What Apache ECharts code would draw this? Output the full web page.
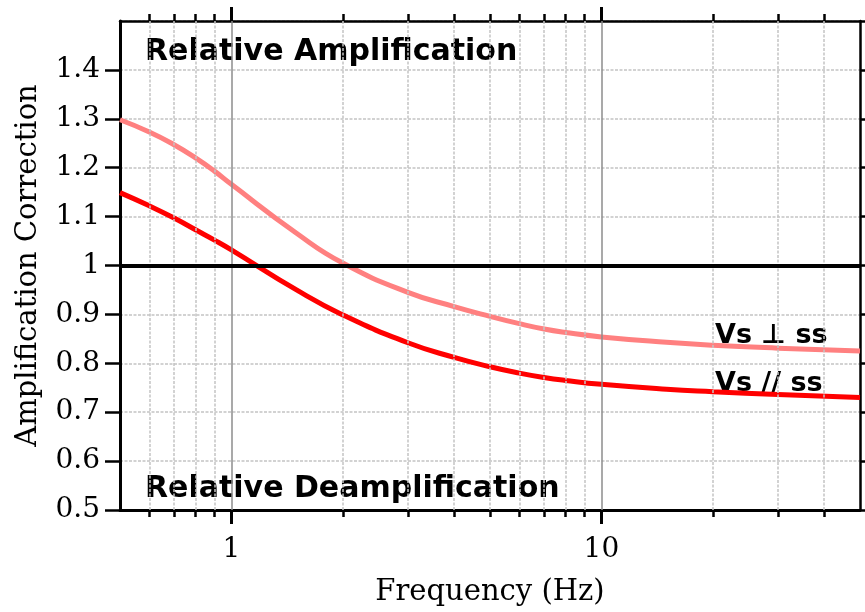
<!DOCTYPE html>
<html><head><meta charset="utf-8">
<script src="https://cdn.jsdelivr.net/npm/echarts@6/dist/echarts.min.js"></script>
<style>html,body{margin:0;padding:0;background:#fff}#c{width:865px;height:612px}</style>
</head><body><div id="c"></div>
<script>
const freq     = [0.5,  0.6,  0.7,  0.8,  0.9,  1,    1.5,  2,    3,    4,    5,    6,    7,    8,    10,   15,   20,   30,   50];
const vsPerpSS = [1.298,1.273,1.247,1.220,1.193,1.166,1.066,1.005,0.945,0.916,0.896,0.881,0.870,0.863,0.854,0.843,0.837,0.831,0.825];
const vsParSS  = [1.149,1.122,1.097,1.073,1.052,1.032,0.950,0.899,0.842,0.812,0.793,0.780,0.771,0.765,0.757,0.747,0.742,0.736,0.730];
const majorTicks = [1, 10];
const minorTicks = [0.6,0.7,0.8,0.9,2,3,4,5,6,7,8,9,20,30,40];
const refLevel = 1;
const xRange = [0.5, 50];
const yRange = [0.5, 1.5];

const chart = echarts.init(document.getElementById('c'), null, {renderer: 'canvas'});
const serif = 'DejaVu Serif';
const grid = {left: 120, right: 5, top: 21, bottom: 99};

function xAx(opts) {
  return Object.assign({
    type: 'log', logBase: 10, min: xRange[0], max: xRange[1], gridIndex: 0,
    axisLine: {show: true, lineStyle: {color: '#000', width: 3}},
    axisLabel: {show: false},
    splitLine: {show: false},
    minorTick: {show: false}
  }, opts);
}

const option = {
  animation: false,
  backgroundColor: '#fff',
  grid: grid,
  xAxis: [
    xAx({position: 'bottom',
      name: 'Frequency (Hz)', nameLocation: 'middle', nameGap: 68,
      nameTextStyle: {fontFamily: serif, fontSize: 29, color: '#000'},
      axisTick: {show: true, customValues: majorTicks, length: 14, lineStyle: {color: '#000', width: 3}},
      axisLabel: {show: true, customValues: majorTicks, margin: 26, fontFamily: serif, fontSize: 28, color: '#000',
        formatter: v => String(v)}
    }),
    xAx({position: 'bottom',
      axisLine: {show: false},
      axisTick: {show: true, customValues: minorTicks, length: 7, lineStyle: {color: '#000', width: 2.5}}
    }),
    xAx({position: 'top',
      axisLine: {show: true, lineStyle: {color: '#000', width: 2.5}},
      axisTick: {show: true, customValues: majorTicks, length: 14, lineStyle: {color: '#000', width: 3}}
    }),
    xAx({position: 'top',
      axisLine: {show: false},
      axisTick: {show: true, customValues: minorTicks, length: 7, lineStyle: {color: '#000', width: 2.5}}
    })
  ],
  yAxis: [
    {type: 'value', min: yRange[0], max: yRange[1], interval: 0.1, position: 'left',
      name: 'Amplification Correction', nameLocation: 'middle', nameGap: 77,
      nameTextStyle: {fontFamily: serif, fontSize: 29, color: '#000'},
      axisLine: {show: true, lineStyle: {color: '#000', width: 3}},
      axisTick: {show: true, length: 15, lineStyle: {color: '#000', width: 2.5}},
      axisLabel: {margin: 20, fontFamily: serif, fontSize: 28, color: '#000', showMaxLabel: false},
      splitLine: {show: true, lineStyle: {color: '#c4c4c4', width: 1.5, type: [3, 1.5]}}
    },
    {type: 'value', min: yRange[0], max: yRange[1], interval: 0.1, position: 'right',
      axisLine: {show: true, lineStyle: {color: '#000', width: 2.5}},
      axisTick: {show: true, length: 7, lineStyle: {color: '#000', width: 2.5}},
      axisLabel: {show: false},
      splitLine: {show: false}
    }
  ],
  series: [
    {type: 'line', name: 'grid', xAxisIndex: 0, yAxisIndex: 0, data: [], silent: true,
      markLine: {silent: true, symbol: 'none', label: {show: false},
        data: minorTicks.map(v => ({xAxis: v, lineStyle: {color: '#c4c4c4', width: 1.5, type: [3, 1.5]}}))
          .concat(majorTicks.map(v => ({xAxis: v, lineStyle: {color: '#8c8c8c', width: 1.5, type: 'solid'}})))
      }
    },
    {type: 'line', name: 'ref', xAxisIndex: 0, yAxisIndex: 0, data: [], silent: true,
      markLine: {silent: true, symbol: 'none', label: {show: false},
        data: [{yAxis: refLevel, lineStyle: {color: '#000', width: 4, type: 'solid'}}]}
    },
    {type: 'line', name: 'Vs ⊥ ss', xAxisIndex: 0, yAxisIndex: 0, smooth: 0.5, showSymbol: false,
      lineStyle: {color: '#ff8080', width: 5}, itemStyle: {color: '#ff8080'},
      data: freq.map((f, i) => [f, vsPerpSS[i]])},
    {type: 'line', name: 'Vs // ss', xAxisIndex: 0, yAxisIndex: 0, smooth: 0.5, showSymbol: false,
      lineStyle: {color: '#ff0000', width: 5}, itemStyle: {color: '#ff0000'},
      data: freq.map((f, i) => [f, vsParSS[i]])}
  ],
  graphic: [
    {type: 'text', left: 145, top: 37, style: {text: 'Relative Amplification', font: 'bold 30px "DejaVu Sans"', fill: '#000'}},
    {type: 'text', left: 145, top: 474, style: {text: 'Relative Deamplification', font: 'bold 30px "DejaVu Sans"', fill: '#000'}},
    {type: 'text', left: 715, top: 322, style: {text: 'Vs \u22A5 ss', font: 'bold 27px "DejaVu Sans"', fill: '#000'}},
    {type: 'text', left: 715, top: 370, style: {text: 'Vs // ss', font: 'bold 27px "DejaVu Sans"', fill: '#000'}}
  ]
};
chart.setOption(option);
</script></body></html>
